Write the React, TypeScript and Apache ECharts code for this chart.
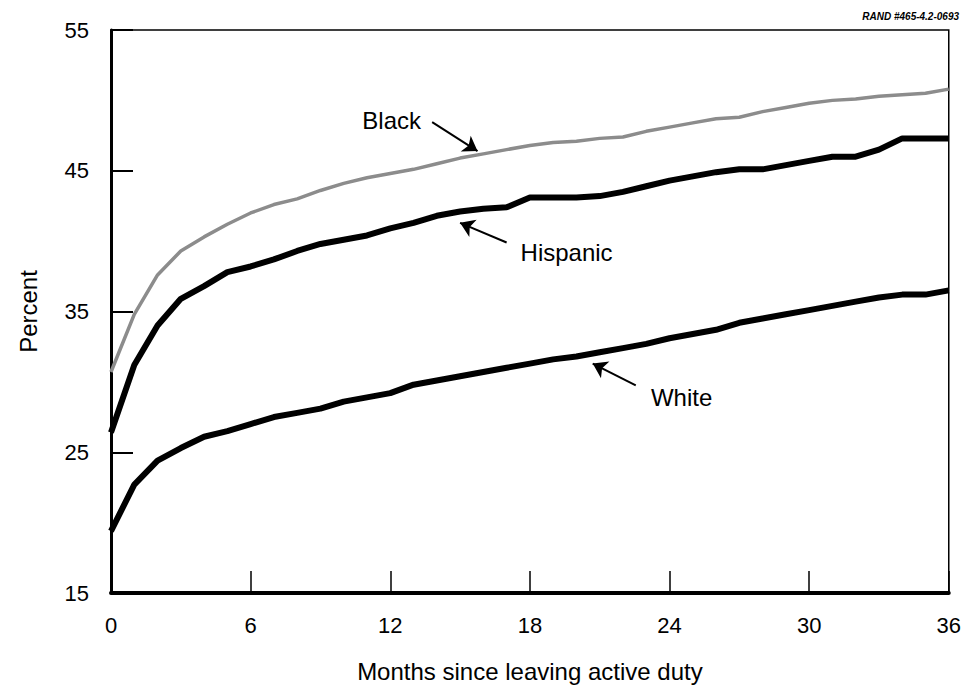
import React, { useEffect, useRef } from "react";
import * as echarts from "echarts";

const months = [0,1,2,3,4,5,6,7,8,9,10,11,12,13,14,15,16,17,18,19,20,21,22,23,24,25,26,27,28,29,30,31,32,33,34,35,36];

const black = [30.7,34.8,37.6,39.3,40.3,41.2,42.0,42.6,43.0,43.6,44.1,44.5,44.8,45.1,45.5,45.9,46.2,46.5,46.8,47.0,47.1,47.3,47.4,47.8,48.1,48.4,48.7,48.8,49.2,49.5,49.8,50.0,50.1,50.3,50.4,50.5,50.8];
const hispanic = [26.4,31.2,34.0,35.9,36.8,37.8,38.2,38.7,39.3,39.8,40.1,40.4,40.9,41.3,41.8,42.1,42.3,42.4,43.1,43.1,43.1,43.2,43.5,43.9,44.3,44.6,44.9,45.1,45.1,45.4,45.7,46.0,46.0,46.5,47.3,47.3,47.3];
const white = [19.4,22.7,24.4,25.3,26.1,26.5,27.0,27.5,27.8,28.1,28.6,28.9,29.2,29.8,30.1,30.4,30.7,31.0,31.3,31.6,31.8,32.1,32.4,32.7,33.1,33.4,33.7,34.2,34.5,34.8,35.1,35.4,35.7,36.0,36.2,36.2,36.5];

const xTicks = { min: 0, max: 36, interval: 6 };
const yTicks = { min: 15, max: 55, interval: 10 };

// annotation anchors in data coordinates: [label position, arrow start, arrow tip]
const blackNote = { text: "Black", label: [10.8, 48.6], from: [13.8, 48.45], to: [15.75, 46.4] };
const hispanicNote = { text: "Hispanic", label: [17.6, 39.2], from: [17.0, 39.9], to: [15.0, 41.3] };
const whiteNote = { text: "White", label: [23.2, 28.9], from: [22.55, 29.75], to: [20.7, 31.3] };

const FONT = "'Liberation Sans', Arial, Helvetica, sans-serif";

function toPairs(vals: number[]) {
  return months.map((m, i) => [m, vals[i]]);
}

function annotation(note: { text: string; label: number[]; from: number[]; to: number[] }) {
  return {
    markLine: {
      silent: true,
      symbol: ["none", "arrow"],
      symbolSize: 14,
      label: { show: false },
      lineStyle: { color: "#000", width: 2, type: "solid" },
      emphasis: { disabled: true },
      data: [[{ coord: note.from }, { coord: note.to }]],
    },
    markPoint: {
      silent: true,
      symbol: "circle",
      symbolSize: 0,
      label: {
        show: true,
        position: "right",
        distance: 0,
        formatter: note.text,
        color: "#000",
        fontSize: 24,
        fontFamily: FONT,
      },
      data: [{ coord: note.label }],
    },
  };
}

export default function App() {
  const ref = useRef<HTMLDivElement>(null);
  useEffect(() => {
    if (!ref.current) return;
    const chart = echarts.init(ref.current, undefined, { renderer: "svg" });
    chart.setOption({
      animation: false,
      backgroundColor: "#fff",
      title: {
        text: "RAND #465-4.2-0693",
        right: 0,
        top: -2,
        textStyle: { fontSize: 10, fontStyle: "italic", fontWeight: "bold", color: "#000", fontFamily: FONT },
      },
      grid: {
        left: 97,
        right: 11,
        top: 22,
        bottom: 88,
        show: true,
        borderColor: "#000",
        borderWidth: 1.5,
        backgroundColor: "transparent",
      },
      xAxis: {
        type: "value",
        min: xTicks.min,
        max: xTicks.max,
        interval: xTicks.interval,
        name: "Months since leaving active duty",
        nameLocation: "middle",
        nameGap: 66,
        nameTextStyle: { fontSize: 24, color: "#000", fontFamily: FONT },
        axisLine: { show: true, lineStyle: { color: "#000", width: 4 } },
        axisTick: { show: true, inside: true, length: 22, lineStyle: { color: "#000", width: 1.5 } },
        axisLabel: { fontSize: 22, color: "#000", margin: 21, fontFamily: FONT },
        splitLine: { show: false },
      },
      yAxis: {
        type: "value",
        min: yTicks.min,
        max: yTicks.max,
        interval: yTicks.interval,
        name: "Percent",
        nameLocation: "middle",
        nameGap: 71,
        nameRotate: 90,
        nameTextStyle: { fontSize: 24, color: "#000", fontFamily: FONT },
        axisLine: { show: true, lineStyle: { color: "#000", width: 3 } },
        axisTick: { show: true, inside: true, length: 22, lineStyle: { color: "#000", width: 2 } },
        axisLabel: { fontSize: 22, color: "#000", margin: 22, fontFamily: FONT },
        splitLine: { show: false },
      },
      series: [
        {
          name: "Black",
          type: "line",
          data: toPairs(black),
          showSymbol: false,
          symbol: "none",
          lineStyle: { color: "#8c8c8c", width: 3.5 },
          z: 3,
          ...annotation(blackNote),
        },
        {
          name: "Hispanic",
          type: "line",
          data: toPairs(hispanic),
          showSymbol: false,
          symbol: "none",
          lineStyle: { color: "#000", width: 6 },
          z: 3,
          ...annotation(hispanicNote),
        },
        {
          name: "White",
          type: "line",
          data: toPairs(white),
          showSymbol: false,
          symbol: "none",
          lineStyle: { color: "#000", width: 6 },
          z: 3,
          ...annotation(whiteNote),
        },
      ],
    });
    return () => chart.dispose();
  }, []);
  return <div ref={ref} style={{ width: 956, height: 680 }} />;
}
